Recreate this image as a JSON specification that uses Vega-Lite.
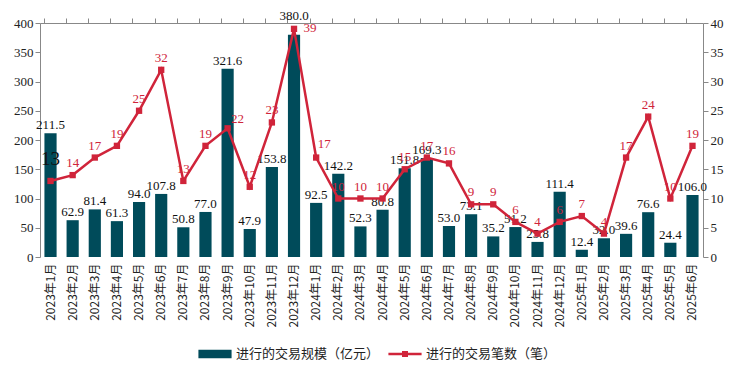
{
  "$schema": "https://vega.github.io/schema/vega-lite/v6.json",
  "width": 663,
  "height": 234,
  "autosize": {"type": "none"},
  "padding": {"left": 40, "top": 23, "right": 32, "bottom": 112},
  "background": "white",
  "config": {"view": {"stroke": null}},
  "data": {"values": [
    {"m": "2023年1月", "v": 211.5, "n": 13},
    {"m": "2023年2月", "v": 62.9, "n": 14},
    {"m": "2023年3月", "v": 81.4, "n": 17},
    {"m": "2023年4月", "v": 61.3, "n": 19},
    {"m": "2023年5月", "v": 94.0, "n": 25},
    {"m": "2023年6月", "v": 107.8, "n": 32},
    {"m": "2023年7月", "v": 50.8, "n": 13},
    {"m": "2023年8月", "v": 77.0, "n": 19},
    {"m": "2023年9月", "v": 321.6, "n": 22},
    {"m": "2023年10月", "v": 47.9, "n": 12},
    {"m": "2023年11月", "v": 153.8, "n": 23},
    {"m": "2023年12月", "v": 380.0, "n": 39},
    {"m": "2024年1月", "v": 92.5, "n": 17},
    {"m": "2024年2月", "v": 142.2, "n": 10},
    {"m": "2024年3月", "v": 52.3, "n": 10},
    {"m": "2024年4月", "v": 80.8, "n": 10},
    {"m": "2024年5月", "v": 151.8, "n": 15},
    {"m": "2024年6月", "v": 169.3, "n": 17},
    {"m": "2024年7月", "v": 53.0, "n": 16},
    {"m": "2024年8月", "v": 73.1, "n": 9},
    {"m": "2024年9月", "v": 35.2, "n": 9},
    {"m": "2024年10月", "v": 51.2, "n": 6},
    {"m": "2024年11月", "v": 25.8, "n": 4},
    {"m": "2024年12月", "v": 111.4, "n": 6},
    {"m": "2025年1月", "v": 12.4, "n": 7},
    {"m": "2025年2月", "v": 32.0, "n": 4},
    {"m": "2025年3月", "v": 39.6, "n": 17},
    {"m": "2025年4月", "v": 76.6, "n": 24},
    {"m": "2025年5月", "v": 24.4, "n": 10},
    {"m": "2025年6月", "v": 106.0, "n": 19}
  ]},
  "layer": [
    {
      "encoding": {
        "x": {"field": "m", "type": "nominal", "sort": null,
          "scale": {"paddingInner": 0.45, "paddingOuter": 0.2},
          "axis": {"title": null, "labelAngle": -90, "labelFont": "Noto Sans CJK SC", "labelFontSize": 12, "labelColor": "#222", "ticks": false, "domain": false, "labelPadding": 6}},
        "y": {"field": "v", "type": "quantitative",
          "scale": {"domain": [0, 400]},
          "axis": {"title": null, "values": [0,50,100,150,200,250,300,350,400], "labelOverlap": false, "grid": false, "domainColor": "#888", "tickColor": "#888", "tickSize": 5, "labelFont": "Liberation Serif", "labelFontSize": 13, "labelColor": "#222"}}
      },
      "layer": [
        {
          "mark": {"type": "bar"},
          "encoding": {
            "color": {"datum": "进行的交易规模（亿元）", "type": "nominal",
              "scale": {"domain": ["进行的交易规模（亿元）", "进行的交易笔数（笔）"], "range": ["#004B5A", "#D0243A"]},
              "legend": {"title": null, "orient": "none", "legendX": 158, "legendY": 314, "direction": "horizontal",
                "labelFont": "Noto Sans CJK SC", "labelFontSize": 13, "labelColor": "#222", "columnPadding": 8, "symbolOffset": 0,
                "symbolSize": 1100, "labelOffset": 4,
                "encode": {"symbols": {"update": {
                  "shape": {"signal": "datum.value === '进行的交易规模（亿元）' ? 'M-1,-0.25H1V0.25H-1Z' : 'M-1,-0.07H1V0.07H-1Z M-0.18,-0.18H0.18V0.18H-0.18Z'"},
                  "fill": {"signal": "scale('color', datum.value)"},
                  "strokeWidth": {"value": 0},
                  "opacity": {"value": 1},
                  "fillOpacity": {"value": 1}
                }}}}}
          }
        },
        {
          "transform": [{"filter": {"not": {"field": "m", "equal": "2023年12月"}}}],
          "mark": {"type": "text", "dy": -8, "font": "Liberation Serif", "fontSize": 13, "color": "#111"},
          "encoding": {
            "text": {"field": "v", "type": "quantitative", "format": ".1f"}
          }
        },
        {
          "transform": [{"filter": {"field": "m", "equal": "2023年12月"}}],
          "mark": {"type": "text", "dy": -19, "font": "Liberation Serif", "fontSize": 13, "color": "#111"},
          "encoding": {
            "text": {"field": "v", "type": "quantitative", "format": ".1f"}
          }
        }
      ]
    },
    {
      "encoding": {
        "x": {"field": "m", "type": "nominal", "sort": null,
          "axis": {"title": null, "labels": false, "bandPosition": 0, "domainColor": "#888", "tickColor": "#888", "tickSize": 5}},
        "y": {"field": "n", "type": "quantitative",
          "scale": {"domain": [0, 40]},
          "axis": {"title": null, "orient": "right", "values": [0,5,10,15,20,25,30,35,40], "labelOverlap": false, "grid": false, "domainColor": "#888", "tickColor": "#888", "tickSize": 5, "labelFont": "Liberation Serif", "labelFontSize": 13, "labelColor": "#222"}}
      },
      "layer": [
        {
          "mark": {"type": "line", "strokeWidth": 2.5, "color": "#D0243A"}
        },
        {
          "mark": {"type": "point", "shape": "square", "filled": true, "size": 40, "color": "#D0243A", "opacity": 1}
        },
        {
          "transform": [{"filter": {"not": {"field": "m", "oneOf": ["2023年1月", "2023年9月", "2023年12月", "2024年1月"]}}}],
          "mark": {"type": "text", "dy": -12, "font": "Liberation Serif", "fontSize": 13, "color": "#D0243A"},
          "encoding": {
            "text": {"field": "n", "type": "quantitative"}
          }
        },
        {
          "transform": [{"filter": {"field": "m", "equal": "2023年9月"}}],
          "mark": {"type": "text", "dx": 10, "dy": -9, "font": "Liberation Serif", "fontSize": 13, "color": "#D0243A"},
          "encoding": {"text": {"field": "n", "type": "quantitative"}}
        },
        {
          "transform": [{"filter": {"field": "m", "equal": "2023年12月"}}],
          "mark": {"type": "text", "dx": 16, "dy": -1, "font": "Liberation Serif", "fontSize": 13, "color": "#D0243A"},
          "encoding": {"text": {"field": "n", "type": "quantitative"}}
        },
        {
          "transform": [{"filter": {"field": "m", "equal": "2024年1月"}}],
          "mark": {"type": "text", "dx": 8, "dy": -14, "font": "Liberation Serif", "fontSize": 13, "color": "#D0243A"},
          "encoding": {"text": {"field": "n", "type": "quantitative"}}
        },
        {
          "transform": [{"filter": {"field": "m", "equal": "2023年1月"}}],
          "mark": {"type": "text", "dy": -22, "font": "Liberation Serif", "fontSize": 19, "color": "#111"},
          "encoding": {"text": {"field": "n", "type": "quantitative"}}
        }
      ]
    }
  ],
  "resolve": {"scale": {"y": "independent"}, "axis": {"x": "independent"}}
}
